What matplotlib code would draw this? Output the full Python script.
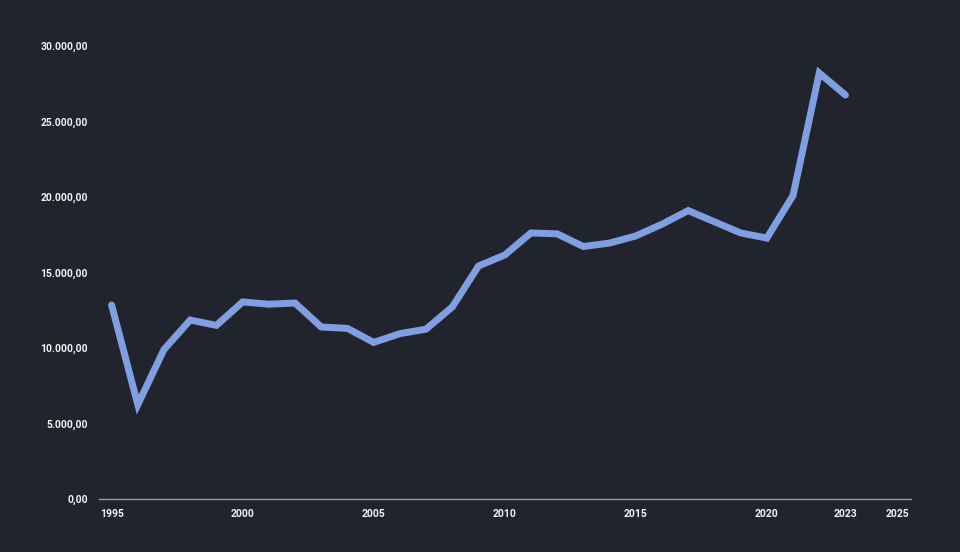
import matplotlib.pyplot as plt
from matplotlib.ticker import FuncFormatter

years = list(range(1995, 2024))
values = [12850, 6250, 9900, 11850, 11500, 13050, 12900, 12980, 11390, 11300,
          10370, 10950, 11250, 12720, 15430, 16160, 17620, 17560, 16720, 16950,
          17420, 18200, 19100, 18360, 17620, 17280, 20100, 28210, 26750]
xticks = [1995, 2000, 2005, 2010, 2015, 2020, 2023, 2025]
yticks = [0, 5000, 10000, 15000, 20000, 25000, 30000]

bg = "#21242d"
line_color = "#7f9fe0"
text_color = "#f2f2f2"

plt.rcParams["font.family"] = ["Roboto", "DejaVu Sans"]
plt.rcParams["font.weight"] = "bold"


def de_fmt(v, pos):
    s = f"{v:,.2f}"
    return s.replace(",", "X").replace(".", ",").replace("X", ".")


fig = plt.figure(figsize=(9.6, 5.52), dpi=100, facecolor=bg)
ax = fig.add_axes([99 / 960, 53 / 552, (911 - 99) / 960, (499 - 46) / 552])
ax.set_facecolor(bg)

ax.plot(years, values, color=line_color, lw=5, solid_capstyle="round",
        solid_joinstyle="miter", clip_on=False)

ax.set_xlim(1994.52, 2025.5)
ax.set_ylim(0, 30000)
ax.set_xticks(xticks)
ax.set_yticks(yticks)
ax.yaxis.set_major_formatter(FuncFormatter(de_fmt))
ax.tick_params(length=0, labelsize=7.5, labelcolor=text_color)
ax.tick_params(axis="y", pad=8)
ax.tick_params(axis="x", pad=7)
for lab in ax.get_xticklabels() + ax.get_yticklabels():
    lab.set_fontweight("bold")

for side in ["top", "right", "left"]:
    ax.spines[side].set_visible(False)
ax.spines["bottom"].set_color("#9a9ca3")
ax.spines["bottom"].set_linewidth(1)

fig.savefig("out.png", dpi=100, facecolor=bg)
